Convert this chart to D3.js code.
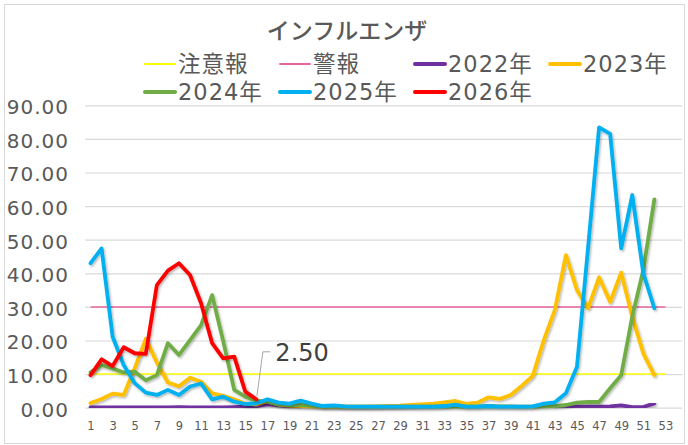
<!DOCTYPE html>
<html>
<head>
<meta charset="utf-8">
<script src="https://cdn.jsdelivr.net/npm/d3@7.9.0/dist/d3.min.js"></script>
<style>
  body { margin: 0; background: #fff; }
  svg { display: block; font-family: "DejaVu Sans", "Noto Sans CJK JP", sans-serif; }
</style>
</head>
<body>
<div id="chart"></div>
<script>
// ---------------------------------------------------------
// Data (values per week)
// ---------------------------------------------------------
const title = "インフルエンザ";
const weekTicks = d3.range(1, 54, 2); // 1,3,...,53
const yTicks = [0, 10, 20, 30, 40, 50, 60, 70, 80, 90];

const cautionLevel = 10;   // 注意報
const warningLevel = 30;   // 警報
const thresholdWeeks = [1, 53];

const y2022 = [0.1, 0.1, 0.1, 0.1, 0.1, 0.1, 0.1, 0.1, 0.2, 0.1, 0.1, 0.1, 0.1, 0.2, 0.3, 0.5, 1.0, 0.8, 0.5, 0.2,
  0.1, 0.1, 0.1, 0.1, 0.1, 0.1, 0.1, 0.1, 0.1, 0.1, 0.1, 0.1, 0.1, 0.1, 0.1, 0.1, 0.1, 0.1, 0.1, 0.1,
  0.1, 0.1, 0.1, 0.2, 0.4, 0.3, 0.3, 0.4, 0.7, 0.2, 0.2, 1.3];
const y2023 = [1.4, 2.6, 4.2, 3.8, 11.8, 20.5, 13.5, 7.5, 6.4, 8.9, 7.7, 4.3, 3.5, 2.5, 1.2, 1.0, 2.0, 1.0, 0.6, 0.5,
  0.4, 0.3, 0.3, 0.3, 0.3, 0.3, 0.4, 0.5, 0.6, 0.8, 1.0, 1.2, 1.6, 2.0, 1.1, 1.5, 3.1, 2.6, 3.8, 6.5,
  9.5, 20.1, 29.1, 45.4, 35.0, 29.6, 38.8, 31.5, 40.2, 27.1, 16.2, 9.7];
const y2024 = [10.5, 12.7, 11.7, 10.5, 10.7, 8.2, 9.7, 19.2, 15.7, 20.1, 24.6, 33.5, 19.8, 5.3, 3.3, 2.0, 1.8, 1.0, 0.8, 0.8,
  0.6, 0.4, 0.3, 0.3, 0.3, 0.3, 0.3, 0.3, 0.3, 0.3, 0.3, 0.3, 0.3, 0.3, 0.3, 0.3, 0.5, 0.4, 0.4, 0.3,
  0.3, 0.4, 0.5, 0.8, 1.5, 1.7, 1.7, 5.8, 9.7, 27.1, 41.0, 62.0];
const y2025 = [43.0, 47.4, 21.1, 12.7, 7.3, 4.5, 3.8, 5.3, 3.8, 6.3, 7.2, 2.5, 3.3, 1.8, 1.1, 1.3, 2.5, 1.5, 1.2, 2.1,
  1.2, 0.5, 0.7, 0.4, 0.3, 0.3, 0.3, 0.3, 0.3, 0.3, 0.3, 0.3, 0.5, 0.9, 0.3, 0.3, 0.5, 0.3, 0.3, 0.3,
  0.4, 1.2, 1.6, 4.3, 12.2, 47.5, 83.4, 81.5, 47.4, 63.3, 40.0, 29.6];
const y2026 = [9.7, 14.4, 12.4, 18.0, 16.2, 16.0, 36.5, 40.8, 43.0, 39.5, 31.1, 19.2, 14.7, 15.2, 4.8, 2.5];

const series = [
  { name: "2022年", values: y2022, color: "#7030A0" },
  { name: "2023年", values: y2023, color: "#FFC000" },
  { name: "2024年", values: y2024, color: "#70AD47" },
  { name: "2025年", values: y2025, color: "#00B0F0" },
  { name: "2026年", values: y2026, color: "#FF0000" }
];

const thresholds = [
  { name: "注意報", level: cautionLevel, color: "#FFFF00" },
  { name: "警報", level: warningLevel, color: "#E8649F" }
];

const labelWeek = 16; // data label on last 2026 point

// ---------------------------------------------------------
// Layout
// ---------------------------------------------------------
const width = 688, height = 445;
const plot = { left: 85, right: 682, top: 105.3, bottom: 407.7 };
const textColor = "#595959";

const svg = d3.select("#chart").append("svg")
  .attr("width", width)
  .attr("height", height);

// drop shadow like the spreadsheet lines
const defs = svg.append("defs");
defs.append("filter")
  .attr("id", "shadow")
  .attr("x", "-5%").attr("y", "-5%").attr("width", "110%").attr("height", "110%")
  .append("feDropShadow")
  .attr("dx", 1.2).attr("dy", 1.5).attr("stdDeviation", 0.9)
  .attr("flood-color", "#000").attr("flood-opacity", 0.3);

// outer border
svg.append("rect")
  .attr("x", 4.5).attr("y", 4.5)
  .attr("width", 680).attr("height", 439)
  .attr("fill", "#fff")
  .attr("stroke", "#D9D9D9");

// --------------------------
// SCALES
// --------------------------
const x = d3.scaleLinear().domain([0.5, 54.5]).range([plot.left, plot.right]);
const y = d3.scaleLinear().domain([0, 90]).range([plot.bottom, plot.top]);

// --------------------------
// GRID + AXES
// --------------------------
svg.append("g")
  .attr("class", "grid")
  .attr("transform", `translate(${plot.left},0)`)
  .call(d3.axisLeft(y).tickValues(yTicks).tickSize(-(plot.right - plot.left)).tickFormat(""))
  .call(g => g.select(".domain").remove())
  .call(g => g.selectAll("line").attr("stroke", "#D9D9D9").attr("stroke-width", 1.2));

svg.append("g")
  .attr("class", "y-axis")
  .attr("transform", `translate(${plot.left},0)`)
  .call(d3.axisLeft(y).tickValues(yTicks).tickSize(0).tickPadding(16).tickFormat(d3.format(".2f")))
  .call(g => g.select(".domain").remove())
  .call(g => g.selectAll("text")
    .attr("font-family", "DejaVu Sans, sans-serif")
    .attr("font-size", 20)
    .attr("letter-spacing", 1)
    .attr("dy", "0.42em")
    .attr("fill", textColor));

svg.append("g")
  .attr("class", "x-axis")
  .attr("transform", `translate(0,${plot.bottom})`)
  .call(d3.axisBottom(x).tickValues(weekTicks).tickSize(0).tickPadding(14))
  .call(g => g.select(".domain").remove())
  .call(g => g.selectAll("text")
    .attr("font-family", "DejaVu Sans, sans-serif")
    .attr("font-size", 11.5)
    .attr("fill", textColor));

// --------------------------
// THRESHOLD LINES
// --------------------------
const lineGen = d3.line().x(d => x(d[0])).y(d => y(d[1]));

svg.append("g").selectAll("path")
  .data(thresholds)
  .join("path")
  .attr("d", t => lineGen(thresholdWeeks.map(w => [w, t.level])))
  .attr("fill", "none")
  .attr("stroke", t => t.color)
  .attr("stroke-width", 1.5);

// --------------------------
// SERIES LINES
// --------------------------
svg.append("g").selectAll("path")
  .data(series)
  .join("path")
  .attr("d", s => lineGen(s.values.map((v, i) => [i + 1, v])))
  .attr("fill", "none")
  .attr("stroke", s => s.color)
  .attr("stroke-width", 3.8)
  .attr("stroke-linejoin", "round")
  .attr("stroke-linecap", "round")
  .attr("filter", "url(#shadow)");

// --------------------------
// DATA LABEL (2026 last point)
// --------------------------
const lv = y2026[labelWeek - 1];
const px = x(labelWeek), py = y(lv);
svg.append("polyline")
  .attr("points", [[px + 0.5, py - 3], [px + 6.5, py - 47.5], [px + 14, py - 47.5]].map(p => p.join(",")).join(" "))
  .attr("fill", "none")
  .attr("stroke", "#A6A6A6")
  .attr("stroke-width", 1);
svg.append("text")
  .attr("x", px + 19)
  .attr("y", py - 38)
  .attr("font-family", "DejaVu Sans, sans-serif")
  .attr("font-size", 24)
  .attr("fill", "#404040")
  .text(d3.format(".2f")(lv));

// --------------------------
// TITLE
// --------------------------
svg.append("text")
  .attr("x", 347)
  .attr("y", 39)
  .attr("text-anchor", "middle")
  .attr("font-family", "Noto Sans CJK JP, sans-serif")
  .attr("font-size", 23)
  .attr("font-weight", 500)
  .attr("fill", textColor)
  .text(title);

// --------------------------
// LEGEND
// --------------------------
const legendItems = [
  ...thresholds.map(t => ({ name: t.name, color: t.color, thin: true })),
  ...series.map(s => ({ name: s.name, color: s.color, thin: false }))
];
const cols = [144, 279, 414, 549];
const rows = [64, 92];

const legend = svg.append("g").attr("class", "legend");
legendItems.forEach((d, i) => {
  const lx = cols[i % 4], ly = rows[Math.floor(i / 4)];
  const g = legend.append("g").attr("transform", `translate(${lx},${ly})`);
  g.append("line")
    .attr("x1", 1).attr("x2", 31)
    .attr("stroke", d.color)
    .attr("stroke-width", d.thin ? 1.8 : 4)
    .attr("stroke-linecap", "round");
  g.append("text")
    .attr("x", 34)
    .attr("y", 0)
    .attr("dy", "0.36em")
    .attr("font-size", 22.5)
    .attr("letter-spacing", 1)
    .attr("fill", textColor)
    .text(d.name);
});
</script>
</body>
</html>
